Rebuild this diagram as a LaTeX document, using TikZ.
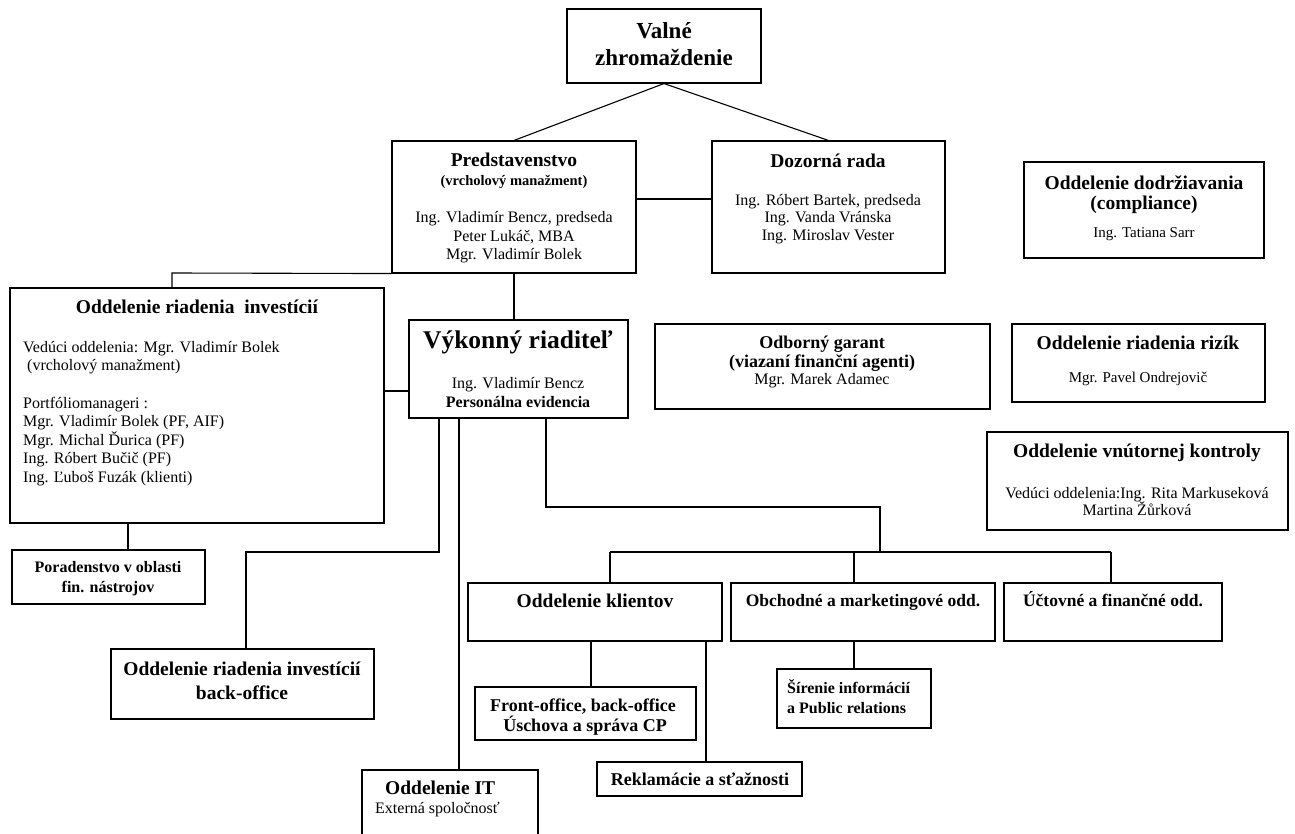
\documentclass[tikz,border=0pt]{standalone}
\usepackage{fontspec}
\setmainfont{Liberation Serif}
\usetikzlibrary{calc}
\newcommand\bx[5]{\node[box, minimum width={(#4)-(#2)}, minimum height={(#5)-(#3)}] (#1) at ({((#2)+(#4))/2},{((#3)+(#5))/2}) {};}
\tikzset{
  box/.style={draw, line width=1.1pt, inner sep=0pt, fill=white},
  link/.style={line width=1.1pt},
  txt/.style={inner sep=0pt, anchor=base},
  bA/.style={txt, font=\fontsize{23}{27}\selectfont\bfseries, yshift=-7.6pt},
  bB/.style={txt, font=\fontsize{19.5}{23}\selectfont\bfseries, yshift=-6.4pt},
  bC/.style={txt, font=\fontsize{25.5}{29}\selectfont\bfseries, yshift=-8.4pt},
  bD/.style={txt, font=\fontsize{18}{21}\selectfont\bfseries, yshift=-5.9pt},
  bDD/.style={txt, font=\fontsize{17.5}{21}\selectfont\bfseries, yshift=-5.8pt},
  bE/.style={txt, font=\fontsize{16}{19}\selectfont\bfseries, yshift=-5.3pt},
  bF/.style={txt, font=\fontsize{14.5}{17}\selectfont\bfseries, yshift=-4.8pt},
  rA/.style={txt, font=\fontsize{16}{19}\selectfont, yshift=-5.3pt},
  rB/.style={txt, font=\fontsize{15}{18}\selectfont, yshift=-5pt},
}
\begin{document}
\begin{tikzpicture}[x=1pt,y=-1pt]
\path[fill=white, use as bounding box] (0,0) rectangle (1295,834);
% boxes
\bx{valne}{567}{9}{761}{83}
\bx{pred}{392}{141}{636}{273}
\bx{doz}{712}{141}{945}{273}
\bx{comp}{1024}{162}{1264}{258}
\bx{inv}{10}{288}{384}{523}
\bx{vyk}{409}{320}{628}{418}
\bx{gar}{655}{324}{990}{409}
\bx{riz}{1012}{324}{1265}{402}
\bx{kon}{987}{432}{1288}{530}
\bx{por}{12}{550}{205}{604}
\bx{bo}{111}{649}{374}{719}
\bx{kl}{468}{583}{722}{641}
\bx{obch}{731}{583}{995}{641}
\bx{uct}{1004}{583}{1222}{641}
\bx{front}{475}{687}{696}{740}
\bx{sir}{777}{669}{931}{728}
\bx{rekl}{597}{762}{802}{796}
\bx{it}{362}{770}{538}{842}
% helper coordinates
\coordinate (y199) at (0,199);
\coordinate (y391) at (0,391);
\coordinate (c172) at (172,273);
\coordinate (x128) at (128,0);
\coordinate (a1) at (439,552);
\coordinate (a2) at (246,552);
\coordinate (x459) at (459,0);
\coordinate (b1) at (546,507);
\coordinate (b2) at (880,507);
\coordinate (b3) at (880,552);
\coordinate (bl) at (610,552);
\coordinate (bm) at (854,552);
\coordinate (br) at (1111,552);
\coordinate (x591) at (591,0);
\coordinate (x706) at (706,0);
% connectors
\begin{scope}[link]
\draw (valne.south) -- (pred.north);
\draw (valne.south) -- (doz.north);
\draw (pred.east |- y199) -- (doz.west |- y199);
\draw (pred.south west) -- (c172) -- (c172 |- inv.north);
\draw (pred.south) -- (pred.south |- vyk.north);
\draw (inv.east |- y391) -- (vyk.west |- y391);
\draw (x128 |- inv.south) -- (x128 |- por.north);
\draw (vyk.south -| a1) -- (a1) -- (a2) -- (a2 |- bo.north);
\draw (vyk.south -| x459) -- (it.north -| x459);
\draw (vyk.south -| b1) -- (b1) -- (b2) -- (b3);
\draw (bl) -- (br);
\draw (bl) -- (bl |- kl.north);
\draw (bm) -- (bm |- obch.north);
\draw (br) -- (br |- uct.north);
\draw (x591 |- kl.south) -- (x591 |- front.north);
\draw (x706 |- kl.south) -- (x706 |- rekl.north);
\draw (obch.south -| bm) -- (bm |- sir.north);
\end{scope}
% texts
\node[bA] (t1) at (664,31) {Valné};
\node[bA] (t2) at (664,58) {zhromaždenie};
\node[bB] (t3) at (514,160) {Predstavenstvo};
\node[bF] (t4) at (514,181) {(vrcholový manažment)};
\node[rA] (t5) at (514,217) {Ing. Vladimír Bencz, predseda};
\node[rA] (t6) at (514,236) {Peter Lukáč, MBA};
\node[rA] (t7) at (514,254) {Mgr. Vladimír Bolek};
\node[bB] (t8) at (828,161) {Dozorná rada};
\node[rA] (t9) at (828,200) {Ing. Róbert Bartek, predseda};
\node[rA] (t10) at (828,217) {Ing. Vanda Vránska};
\node[rA] (t11) at (828,235) {Ing. Miroslav Vester};
\node[bB] (t12) at (1144,183) {Oddelenie dodržiavania};
\node[bB] (t13) at (1144,203) {(compliance)};
\node[rB] (t14) at (1144,233) {Ing. Tatiana Sarr};
\node[bB] (t15) at (197,307) {Oddelenie riadenia~ investícií};
\node[rA, anchor=base west] (t16) at (23,347) {Vedúci oddelenia: Mgr. Vladimír Bolek};
\node[rA, anchor=base west] (t17) at (27,365.6) {(vrcholový manažment)};
\node[rA, anchor=base west] (t18) at (23,402.8) {Portfóliomanageri :};
\node[rA, anchor=base west] (t19) at (23,421.4) {Mgr. Vladimír Bolek (PF, AIF)};
\node[rA, anchor=base west] (t20) at (23,440) {Mgr. Michal Ďurica (PF)};
\node[rA, anchor=base west] (t21) at (23,458.6) {Ing. Róbert Bučič (PF)};
\node[rA, anchor=base west] (t22) at (23,477.2) {Ing. Ľuboš Fuzák (klienti)};
\node[bC] (t23) at (518,340) {Výkonný riaditeľ};
\node[rA] (t24) at (518,383) {Ing. Vladimír Bencz};
\node[bE] (t25) at (518,402) {Personálna evidencia};
\node[bD] (t26) at (822,343) {Odborný garant};
\node[bD] (t27) at (822,362) {(viazaní finanční agenti)};
\node[rA] (t28) at (822,379) {Mgr. Marek Adamec};
\node[bB] (t29) at (1138,343) {Oddelenie riadenia rizík};
\node[rB] (t30) at (1138,377) {Mgr. Pavel Ondrejovič};
\node[bB] (t31) at (1137,451) {Oddelenie vnútornej kontroly};
\node[rA] (t32) at (1137,493) {Vedúci oddelenia:Ing. Rita Markuseková};
\node[rA] (t33) at (1137,510) {Martina Žůrková};
\node[bE] (t34) at (108,567) {Poradenstvo v oblasti};
\node[bE] (t35) at (108,587) {fin. nástrojov};
\node[bB] (t36) at (242,669) {Oddelenie riadenia investícií};
\node[bB] (t37) at (242,693) {back-office};
\node[bB] (t38) at (595,601) {Oddelenie klientov};
\node[bDD] (t39) at (863,601) {Obchodné a marketingové odd.};
\node[bDD] (t40) at (1113,601) {Účtovné a finančné odd.};
\node[bD] (t41) at (583,706) {Front-office, back-office};
\node[bD] (t42) at (585,726) {Úschova a správa CP};
\node[bE, anchor=base west] (t43) at (787,688) {Šírenie informácií};
\node[bE, anchor=base west] (t44) at (787,708) {a Public relations};
\node[bD] (t45) at (700,780) {Reklamácie a sťažnosti};
\node[bB, anchor=base west] (t46) at (385,788) {Oddelenie IT};
\node[rA, anchor=base west] (t47) at (375,808) {Externá spoločnosť};
\end{tikzpicture}
\end{document}
